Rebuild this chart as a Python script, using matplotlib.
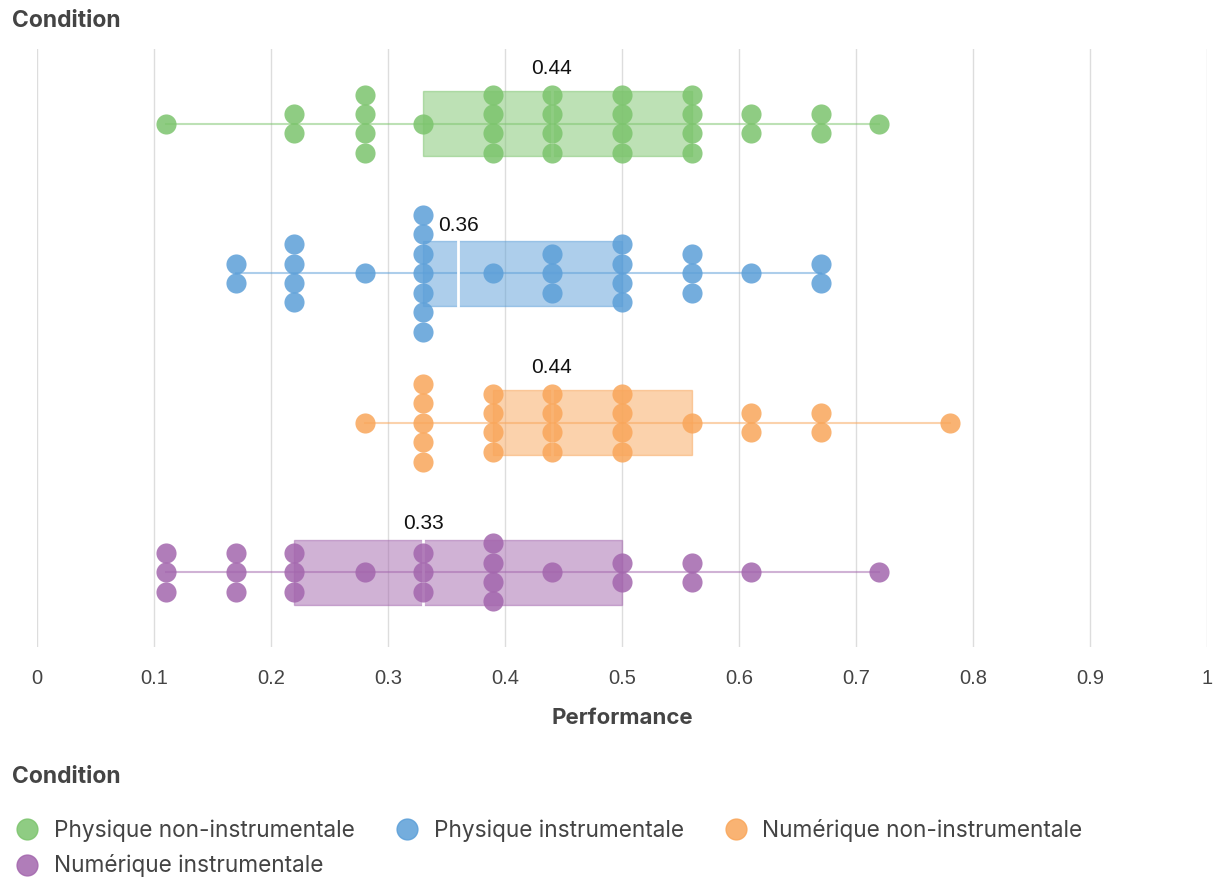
import numpy as np
import matplotlib
matplotlib.use("Agg")
import matplotlib.pyplot as plt
from matplotlib.lines import Line2D
from matplotlib.patches import Rectangle

# conditions, top to bottom
conditions = ["Physique non-instrumentale", "Physique instrumentale",
              "Numérique non-instrumentale", "Numérique instrumentale"]
colors = ["#7cc46d", "#5c9fd8", "#f9a65a", "#a366ad"]

# score values and how many participants got each one
green_values = [0.11, 0.22, 0.28, 0.33, 0.39, 0.44, 0.5, 0.56, 0.61, 0.67, 0.72]
green_counts = [1, 2, 4, 1, 4, 4, 4, 4, 2, 2, 1]
blue_values = [0.17, 0.22, 0.28, 0.33, 0.39, 0.44, 0.5, 0.56, 0.61, 0.67]
blue_counts = [2, 4, 1, 7, 1, 3, 4, 3, 1, 2]
orange_values = [0.28, 0.33, 0.39, 0.44, 0.5, 0.56, 0.61, 0.67, 0.78]
orange_counts = [1, 5, 4, 4, 4, 1, 2, 2, 1]
purple_values = [0.11, 0.17, 0.22, 0.28, 0.33, 0.39, 0.44, 0.5, 0.56, 0.61, 0.72]
purple_counts = [3, 3, 3, 1, 3, 4, 1, 2, 2, 1, 1]

# box stats: min, q1, median, q3, max
mins = [0.11, 0.17, 0.28, 0.11]
q1s = [0.33, 0.33, 0.39, 0.22]
medians = [0.44, 0.36, 0.44, 0.33]
q3s = [0.56, 0.5, 0.56, 0.5]
maxs = [0.72, 0.67, 0.78, 0.72]

all_values = [green_values, blue_values, orange_values, purple_values]
all_counts = [green_counts, blue_counts, orange_counts, purple_counts]

fig = plt.figure(figsize=(12.16, 8.77), dpi=100)
ax = fig.add_axes([37 / 1216, 230 / 877, 1170 / 1216, 598 / 877])

step = 0.13
box_h = 0.435
label_off = [0.15, 0.10, 0.15, 0.11]

for i in range(4):
    c = colors[i]
    # whisker line
    ax.plot([mins[i], maxs[i]], [i, i], color=c, alpha=0.5, lw=1.5, zorder=2)
    # box
    ax.add_patch(Rectangle((q1s[i], i - box_h / 2), q3s[i] - q1s[i], box_h,
                           facecolor=c, alpha=0.5, edgecolor=c, lw=1, zorder=3))
    ax.plot([medians[i], medians[i]], [i - box_h / 2, i + box_h / 2],
            color="white", lw=2, zorder=4)
    # stacked dots
    xs, ys = [], []
    for v, n in zip(all_values[i], all_counts[i]):
        for k in range(n):
            xs.append(v)
            ys.append(i + (k - (n - 1) / 2) * step)
    ax.scatter(xs, ys, s=210, color=c, alpha=0.85, linewidths=0, zorder=5)
    ax.text(medians[i], i - box_h / 2 - label_off[i], f"{medians[i]:.2f}",
            ha="center", va="center", fontsize=15, family="Liberation Sans",
            color="#111111", zorder=6)

ax.set_xlim(0, 1)
ax.set_ylim(3.5, -0.5)
ax.set_yticks([])
ticks = np.arange(0, 1.01, 0.1)
ax.set_xticks(ticks)
ax.set_xticklabels(["0"] + [f"{t:.1f}" for t in ticks[1:-1]] + ["1"],
                   family="Liberation Sans", fontsize=14.5, color="#444444")
ax.tick_params(axis="x", length=0, pad=16)
ax.grid(axis="x", color="#dddddd", lw=1)
ax.set_axisbelow(True)
for s in ax.spines.values():
    s.set_visible(False)
ax.set_xlabel("Performance", family="Inter", fontweight="bold", fontsize=16,
              color="#444444", labelpad=14)

fig.text(12 / 1216, 1 - 21 / 877, "Condition", family="Inter", fontweight="bold",
         fontsize=16.5, color="#444444", va="center", ha="left")
fig.text(12 / 1216, 1 - 777 / 877, "Condition", family="Inter", fontweight="bold",
         fontsize=16.5, color="#444444", va="center", ha="left")

# legend filled row by row: matplotlib fills by column, so reorder
order = [0, 3, 1, 2]
handles = [Line2D([], [], marker="o", ls="", markersize=15, color=colors[j], alpha=0.85)
           for j in order]
fig.legend(handles, [conditions[j] for j in order], ncol=3, frameon=False,
           loc="upper left", bbox_to_anchor=(16 / 1216, 1 - 819 / 877),
           borderaxespad=0, borderpad=0, handletextpad=0.68, columnspacing=1.8,
           labelspacing=0.55, handlelength=1.0,
           prop={"family": "Inter", "size": 16.3}, labelcolor="#444444")

fig.savefig("out.png", dpi=100)
